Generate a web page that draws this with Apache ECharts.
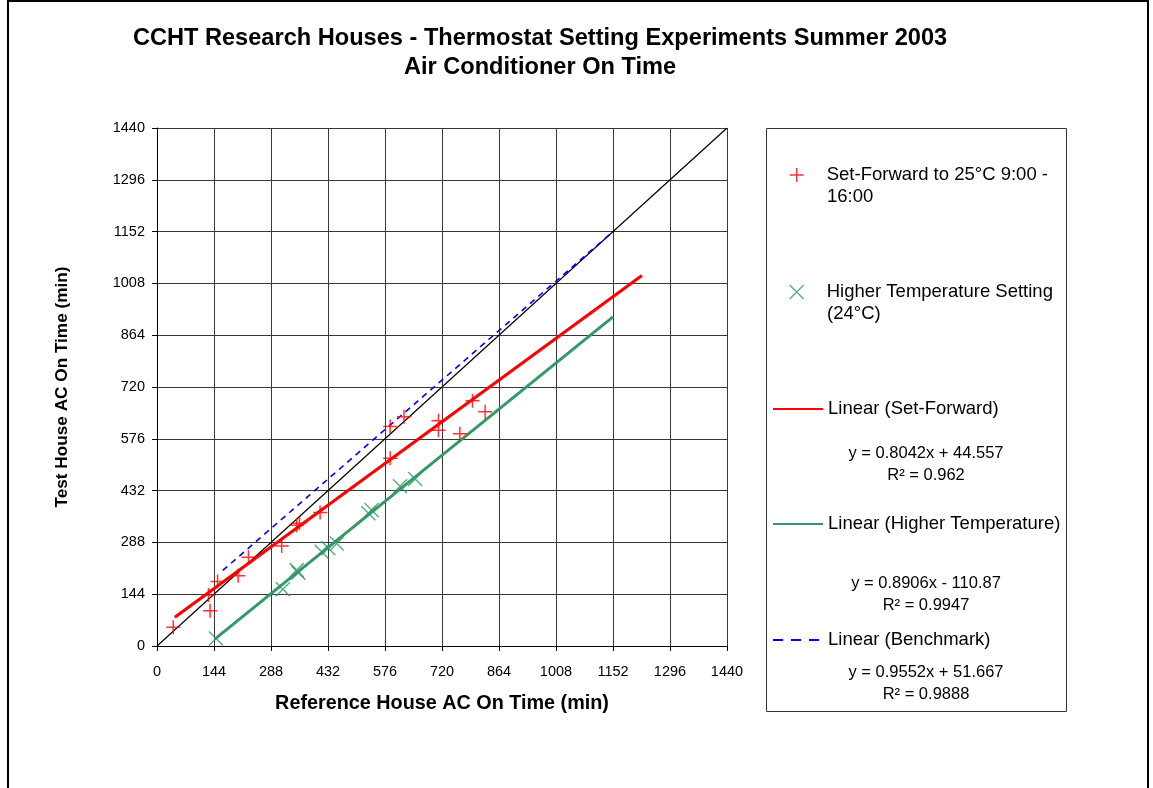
<!DOCTYPE html>
<html>
<head>
<meta charset="utf-8">
<script src="https://cdn.jsdelivr.net/npm/echarts@6/dist/echarts.min.js"></script>
<style>
  html, body { margin: 0; padding: 0; background: #fff; }
  #chart { width: 1153px; height: 788px; }
</style>
</head>
<body>
<div id="chart"></div>
<script>
// values (minutes)
const setForward = [
  [41, 52], [134, 98], [130, 142], [153, 179], [205, 195], [231, 247],
  [315, 278], [353, 336], [360, 341], [412, 371], [589, 522], [589, 610],
  [624, 637], [711, 600], [711, 626], [765, 590], [797, 682], [829, 651]
]
const higherTemp = [
  [149, 21], [318, 158], [353, 211], [357, 204], [416, 262], [433, 272],
  [454, 285], [534, 369], [542, 378], [614, 444], [652, 464]
]
// trend line end points
const trendSetForward = [[45, 80], [1225, 1030]]
const trendHigher = [[146, 19], [1152, 915]]
const trendBenchmark = [[166, 210], [1152, 1152]]
const diagonal = [[0, 0], [1440, 1440]]

const equations = [
  ['y = 0.8042x + 44.557', 'R² = 0.962'],
  ['y = 0.8906x - 110.87', 'R² = 0.9947'],
  ['y = 0.9552x + 51.667', 'R² = 0.9888']
]

const FONT = '"Liberation Sans", Arial, sans-serif'
const RED = '#ff0000'
const GREEN = '#339966'
const BLUE = '#0000ff'
const plusIcon = 'path://M0,5L10,5M5,0L5,10'
const crossIcon = 'path://M0,0L10,10M10,0L0,10'

const names = {
  sf: 'Set-Forward to 25°C 9:00 - 16:00',
  ht: 'Higher Temperature Setting (24°C)',
  lsf: 'Linear (Set-Forward)',
  lht: 'Linear (Higher Temperature)',
  lbm: 'Linear (Benchmark)'
}

const legendBase = {
  left: 772,
  padding: 0,
  orient: 'vertical',
  itemWidth: 50,
  itemHeight: 14,
  selectedMode: false,
  textStyle: { fontFamily: FONT, fontSize: 18.5, color: '#000', lineHeight: 20 },
}

const chart = echarts.init(document.getElementById('chart'))
const option = {
  animation: false,
  backgroundColor: '#fff',
  title: {
    text: 'CCHT Research Houses - Thermostat Setting Experiments Summer 2003\nAir Conditioner On Time',
    left: 535,
    textAlign: 'center',
    top: 19,
    textStyle: { fontFamily: FONT, fontSize: 23.6, fontWeight: 'bold', color: '#000', lineHeight: 29 },
  },
  grid: { left: 157, top: 128, width: 570, height: 518 },
  xAxis: {
    type: 'value',
    min: 0,
    max: 1440,
    interval: 144,
    name: 'Reference House AC On Time (min)',
    nameLocation: 'middle',
    nameGap: 48,
    nameTextStyle: { fontFamily: FONT, fontSize: 19.8, fontWeight: 'bold', color: '#000' },
    axisLine: { lineStyle: { color: '#000', width: 1 } },
    axisTick: { show: true, length: 5, lineStyle: { color: '#000' } },
    axisLabel: { fontFamily: FONT, fontSize: 14.5, color: '#000', margin: 18, formatter: v => String(v) },
    splitLine: { show: true, lineStyle: { color: '#383838', width: 1 } },
  },
  yAxis: {
    type: 'value',
    min: 0,
    max: 1440,
    interval: 144,
    name: 'Test House AC On Time (min)',
    nameLocation: 'middle',
    nameGap: 86,
    nameTextStyle: { fontFamily: FONT, fontSize: 17.2, fontWeight: 'bold', color: '#000' },
    axisLine: { show: true, lineStyle: { color: '#000', width: 1 } },
    axisTick: { show: true, length: 5, lineStyle: { color: '#000' } },
    axisLabel: { fontFamily: FONT, fontSize: 14.5, color: '#000', margin: 12, formatter: v => String(v) },
    splitLine: { show: true, lineStyle: { color: '#383838', width: 1 } },
  },
  legend: [
    {
      ...legendBase, left: 789, top: 165, data: [names.sf], icon: plusIcon,
      itemStyle: { color: 'rgba(0,0,0,0)', borderColor: RED, borderWidth: 1.4 },
      formatter: () => 'Set-Forward to 25°C 9:00 -',
    },
    {
      ...legendBase, left: 789, top: 282, data: [names.ht], icon: crossIcon,
      itemStyle: { color: 'rgba(0,0,0,0)', borderColor: GREEN, borderWidth: 1.4 },
      formatter: () => 'Higher Temperature Setting',
    },
    { ...legendBase, top: 399, data: [names.lsf], itemStyle: { opacity: 0 } },
    { ...legendBase, top: 514, data: [names.lht], itemStyle: { opacity: 0 } },
    {
      ...legendBase, top: 630, data: [names.lbm], itemStyle: { opacity: 0 },
      lineStyle: { type: [10, 8], width: 2 },
    },
  ],
  graphic: [
    {
      type: 'rect', silent: true, z: -1,
      shape: { x: 766.5, y: 128.5, width: 300, height: 583 },
      style: { fill: '#fff', stroke: '#333', lineWidth: 1 },
    },
    {
      type: 'rect', silent: true, z: -2,
      shape: { x: 8, y: 1, width: 1140, height: 820 },
      style: { fill: 'none', stroke: '#000', lineWidth: 2 },
    },
    { type: 'text', x: 827, y: 197, style: { text: '16:00', fontFamily: FONT, fontSize: 18.5, fill: '#000', verticalAlign: 'middle' } },
    { type: 'text', x: 827, y: 314, style: { text: '(24°C)', fontFamily: FONT, fontSize: 18.5, fill: '#000', verticalAlign: 'middle' } },
    ...[[453, 475], [583, 605], [672, 694]].flatMap((ys, i) => ys.map((y, j) => ({
      type: 'text', x: 926, y: y,
      style: { text: equations[i][j], fontFamily: FONT, fontSize: 16.5, fill: '#000', align: 'center', verticalAlign: 'middle' },
    }))),
  ],
  series: [
    {
      name: 'diag', type: 'line', data: diagonal, symbol: 'none', silent: true,
      lineStyle: { color: '#000', width: 1.2 }, z: 1,
    },
    {
      name: names.lbm, type: 'line', data: trendBenchmark, symbol: 'none',
      lineStyle: { color: BLUE, width: 1.6, type: [6, 5] }, itemStyle: { color: BLUE }, z: 2,
    },
    {
      name: names.lsf, type: 'line', data: trendSetForward, symbol: 'none',
      lineStyle: { color: RED, width: 3 }, itemStyle: { color: RED }, z: 2,
    },
    {
      name: names.lht, type: 'line', data: trendHigher, symbol: 'none',
      lineStyle: { color: GREEN, width: 3 }, itemStyle: { color: GREEN }, z: 2,
    },
    {
      name: names.sf, type: 'scatter', data: setForward, symbol: plusIcon, symbolSize: 14,
      itemStyle: { color: 'rgba(0,0,0,0)', borderColor: RED, borderWidth: 1.5 }, z: 3,
    },
    {
      name: names.ht, type: 'scatter', data: higherTemp, symbol: crossIcon, symbolSize: 14,
      itemStyle: { color: 'rgba(0,0,0,0)', borderColor: GREEN, borderWidth: 1.5 }, z: 3,
    },
  ],
}
chart.setOption(option)
</script>
</body>
</html>
